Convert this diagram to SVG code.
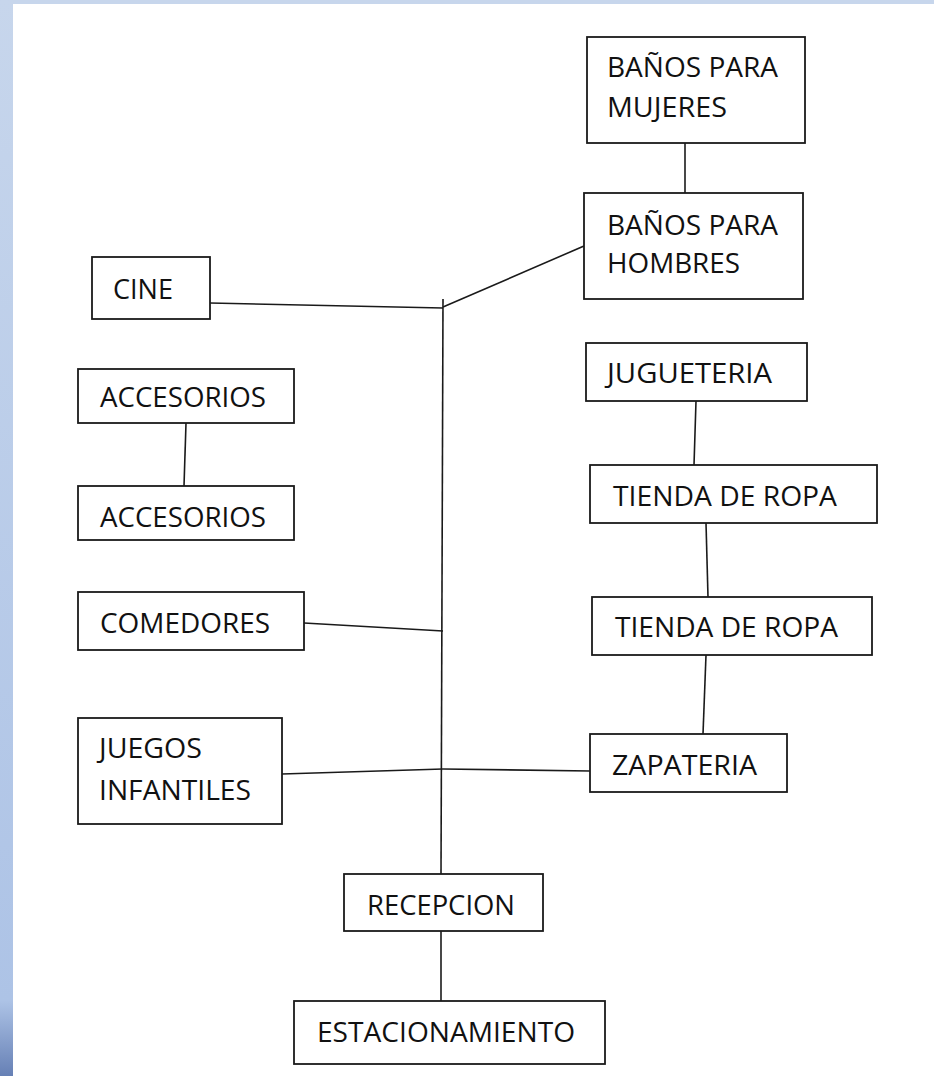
<svg xmlns="http://www.w3.org/2000/svg" width="934" height="1076" viewBox="0 0 934 1076">
  <style>
    .box { fill: #ffffff; stroke: #1a1a1a; stroke-width: 1.8; }
    .lbl { font-family: "Open Sans", "Liberation Sans", sans-serif; font-size: 27px; fill: #111111; }
    .con { stroke: #1a1a1a; stroke-width: 1.6; fill: none; }
  </style>
  <defs>
    <linearGradient id="side" x1="0" y1="0" x2="0" y2="1">
      <stop offset="0" stop-color="#c7d6ec"/>
      <stop offset="0.93" stop-color="#adc3e6"/>
      <stop offset="1" stop-color="#6680b5"/>
    </linearGradient>
  </defs>
  <rect x="0" y="0" width="934" height="1076" fill="#ffffff"/>
  <rect x="0" y="0" width="934" height="4" fill="#c7d6ec"/>
  <rect x="0" y="0" width="13" height="1076" fill="url(#side)"/>

  <g id="connectors">
    <line class="con" x1="685" y1="143" x2="685" y2="193"/>
    <line class="con" x1="443" y1="307" x2="584" y2="246"/>
    <line class="con" x1="210" y1="303" x2="443" y2="308"/>
    <line class="con" x1="443" y1="299" x2="441" y2="875"/>
    <line class="con" x1="186" y1="423" x2="184" y2="486"/>
    <line class="con" x1="304" y1="623" x2="443" y2="631"/>
    <line class="con" x1="282" y1="774" x2="443" y2="769"/>
    <line class="con" x1="443" y1="769" x2="590" y2="771"/>
    <line class="con" x1="696" y1="401" x2="694" y2="465"/>
    <line class="con" x1="706" y1="523" x2="708" y2="597"/>
    <line class="con" x1="706" y1="655" x2="703" y2="734"/>
    <line class="con" x1="441" y1="931" x2="441" y2="1001"/>
  </g>

  <g id="banos-mujeres">
    <rect class="box" x="587" y="37" width="218" height="106"/>
    <text class="lbl" x="607" y="77" textLength="171" lengthAdjust="spacingAndGlyphs">BAÑOS PARA</text>
    <text class="lbl" x="607" y="117" textLength="120" lengthAdjust="spacingAndGlyphs">MUJERES</text>
  </g>
  <g id="banos-hombres">
    <rect class="box" x="584" y="193" width="219" height="106"/>
    <text class="lbl" x="607" y="235" textLength="171" lengthAdjust="spacingAndGlyphs">BAÑOS PARA</text>
    <text class="lbl" x="607" y="273" textLength="133" lengthAdjust="spacingAndGlyphs">HOMBRES</text>
  </g>
  <g id="cine">
    <rect class="box" x="92" y="257" width="118" height="62"/>
    <text class="lbl" x="113" y="299" textLength="60" lengthAdjust="spacingAndGlyphs">CINE</text>
  </g>
  <g id="accesorios-1">
    <rect class="box" x="78" y="369" width="216" height="54"/>
    <text class="lbl" x="100" y="407" textLength="166" lengthAdjust="spacingAndGlyphs">ACCESORIOS</text>
  </g>
  <g id="accesorios-2">
    <rect class="box" x="78" y="486" width="216" height="54"/>
    <text class="lbl" x="100" y="527" textLength="166" lengthAdjust="spacingAndGlyphs">ACCESORIOS</text>
  </g>
  <g id="comedores">
    <rect class="box" x="78" y="592" width="226" height="58"/>
    <text class="lbl" x="100" y="633" textLength="170" lengthAdjust="spacingAndGlyphs">COMEDORES</text>
  </g>
  <g id="juegos-infantiles">
    <rect class="box" x="78" y="718" width="204" height="106"/>
    <text class="lbl" x="99" y="758" textLength="103" lengthAdjust="spacingAndGlyphs">JUEGOS</text>
    <text class="lbl" x="99" y="800" textLength="152" lengthAdjust="spacingAndGlyphs">INFANTILES</text>
  </g>
  <g id="jugueteria">
    <rect class="box" x="586" y="343" width="221" height="58"/>
    <text class="lbl" x="607" y="383" textLength="165" lengthAdjust="spacingAndGlyphs">JUGUETERIA</text>
  </g>
  <g id="tienda-ropa-1">
    <rect class="box" x="590" y="465" width="287" height="58"/>
    <text class="lbl" x="613" y="506" textLength="224" lengthAdjust="spacingAndGlyphs">TIENDA DE ROPA</text>
  </g>
  <g id="tienda-ropa-2">
    <rect class="box" x="592" y="597" width="280" height="58"/>
    <text class="lbl" x="615" y="637" textLength="223" lengthAdjust="spacingAndGlyphs">TIENDA DE ROPA</text>
  </g>
  <g id="zapateria">
    <rect class="box" x="590" y="734" width="197" height="58"/>
    <text class="lbl" x="612" y="775" textLength="145" lengthAdjust="spacingAndGlyphs">ZAPATERIA</text>
  </g>
  <g id="recepcion">
    <rect class="box" x="344" y="874" width="199" height="57"/>
    <text class="lbl" x="367" y="915" textLength="148" lengthAdjust="spacingAndGlyphs">RECEPCION</text>
  </g>
  <g id="estacionamiento">
    <rect class="box" x="294" y="1001" width="311" height="63"/>
    <text class="lbl" x="317" y="1042" textLength="258" lengthAdjust="spacingAndGlyphs">ESTACIONAMIENTO</text>
  </g>
</svg>
